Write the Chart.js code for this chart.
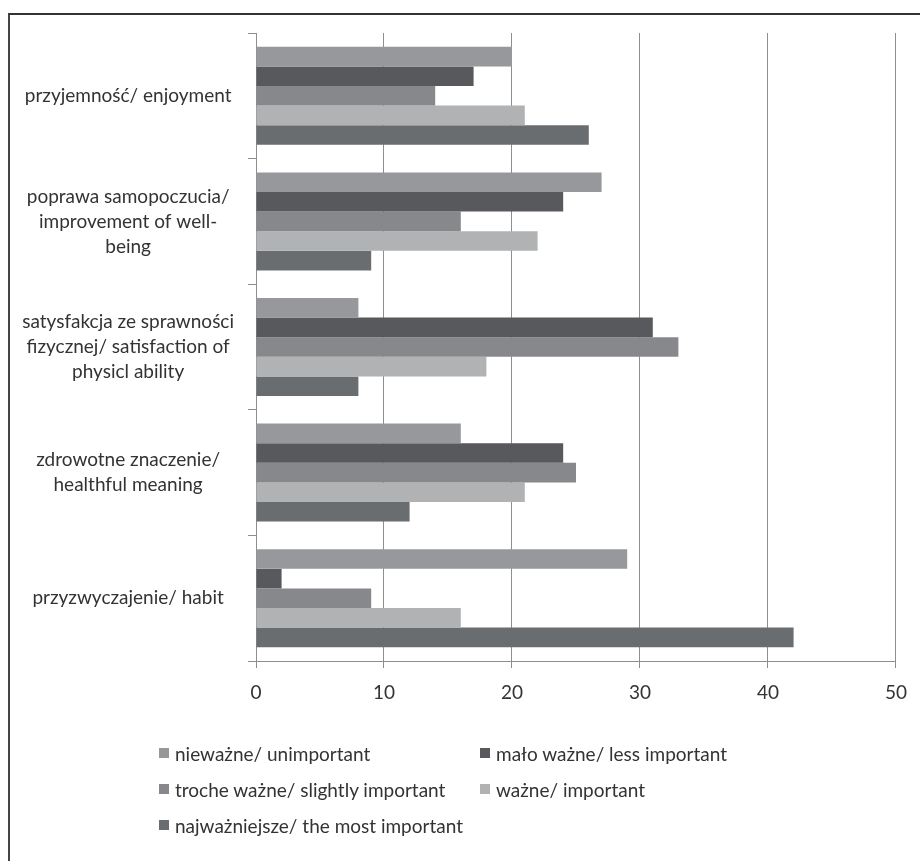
<!DOCTYPE html>
<html>
<head>
<meta charset="utf-8">
<title>Motywy aktywności</title>
<script src="https://cdn.jsdelivr.net/npm/chart.js@4.4.1/dist/chart.umd.min.js"></script>
<style>
  body { margin: 0; background: #fff; }
  .frame {
    position: absolute; left: 8px; top: 13px; width: 912px; height: 848px;
    border-left: 2px solid #444; border-top: 2px solid #333;
  }
  #chart { position: absolute; left: 0; top: 0; }
  #legend {
    position: absolute; left: 159px; top: 735px;
    display: grid; grid-template-columns: 321px auto; grid-auto-rows: 36px;
    font-family: Lato, sans-serif; font-size: 19px; color: #333;
  }
  #legend div { display: flex; align-items: center; white-space: nowrap; }
  #legend i { display: inline-block; width: 10px; height: 10px; margin-right: 6px; }
</style>
</head>
<body>
<div class="frame"></div>
<canvas id="chart" width="920" height="861"></canvas>
<div id="legend"></div>

<script>
// motives, top to bottom
const categories = [
  'przyjemność/ enjoyment',
  ['poprawa samopoczucia/', 'improvement of well-', 'being'],
  ['satysfakcja ze sprawności', 'fizycznej/ satisfaction of', 'physicl ability'],
  ['zdrowotne znaczenie/', 'healthful meaning'],
  'przyzwyczajenie/ habit'
];

const seriesNames = [
  'nieważne/ unimportant',
  'mało ważne/ less important',
  'troche ważne/ slightly important',
  'ważne/ important',
  'najważniejsze/ the most important'
];

const unimportant = [20, 27, 8, 16, 29];
const lessImportant = [17, 24, 31, 24, 2];
const slightlyImportant = [14, 16, 33, 25, 9];
const important = [21, 22, 18, 21, 16];
const mostImportant = [26, 9, 8, 12, 42];

const xTicks = [0, 10, 20, 30, 40, 50];

const colors = ['#97989b', '#58595c', '#87888b', '#b0b2b4', '#6a6d70'];
const values = [unimportant, lessImportant, slightlyImportant, important, mostImportant];

const font = { family: 'Lato, sans-serif', size: 19 };

const datasets = seriesNames.map((name, i) => ({
  label: name,
  data: values[i],
  backgroundColor: colors[i],
  borderWidth: 0,
  categoryPercentage: 0.78,
  barPercentage: 1
}));

new Chart(document.getElementById('chart'), {
  type: 'bar',
  data: { labels: categories, datasets: datasets },
  options: {
    indexAxis: 'y',
    responsive: false,
    animation: false,
    layout: { padding: { top: 33, right: 19, left: 0, bottom: 0 } },
    plugins: { legend: { display: false }, tooltip: { enabled: false } },
    scales: {
      x: {
        min: xTicks[0],
        max: xTicks[xTicks.length - 1],
        afterBuildTicks: (scale) => { scale.ticks = xTicks.map(v => ({ value: v })); },
        ticks: { color: '#333', font: font, padding: 13 },
        grid: { color: '#8e8e8e', tickLength: 7 },
        border: { color: '#8e8e8e' },
        afterFit: (scale) => { scale.height = 200; }
      },
      y: {
        ticks: {
          color: '#333',
          crossAlign: 'center',
          padding: 14,
          font: { family: 'Lato, sans-serif', size: 19, lineHeight: '25px' }
        },
        grid: { offset: true, drawOnChartArea: false, tickLength: 8, color: '#8e8e8e' },
        border: { color: '#8e8e8e' },
        afterFit: (scale) => { scale.width = 256; }
      }
    }
  }
});

// legend in two columns under the axis
const legend = document.getElementById('legend');
seriesNames.forEach((name, i) => {
  const item = document.createElement('div');
  item.innerHTML = '<i style="background:' + colors[i] + '"></i>' + name;
  legend.appendChild(item);
});
</script>
</body>
</html>
